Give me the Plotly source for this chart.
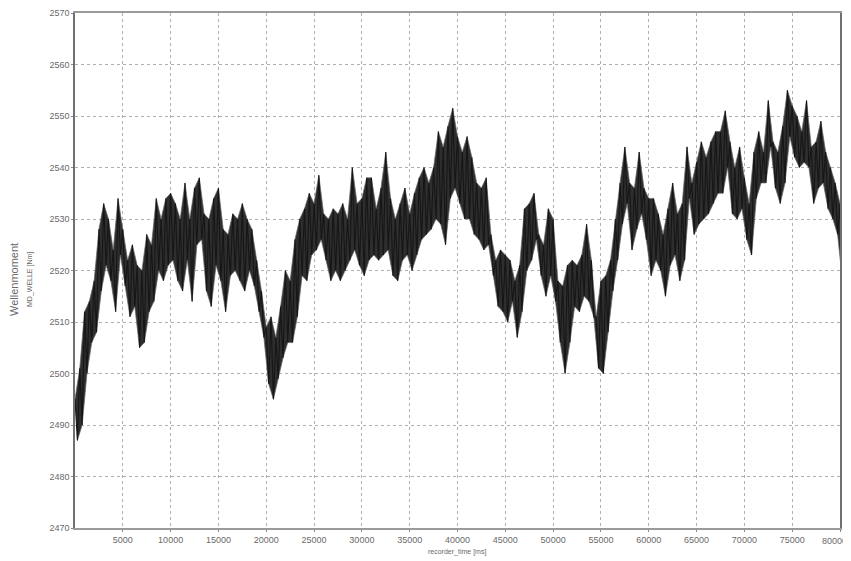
import plotly.graph_objects as go

# time step of envelope readings (ms)
step_ms = 500
# upper envelope of Wellenmoment, every 500 ms from 0 to 80000
upper = [2495, 2501, 2512, 2514, 2518, 2528, 2533, 2530, 2524, 2534,
         2528, 2522, 2525, 2521, 2520, 2527, 2525, 2534, 2530, 2534,
         2535, 2533, 2530, 2537, 2530, 2536, 2538, 2531, 2530, 2534,
         2536, 2528, 2527, 2531, 2530, 2533, 2530, 2528, 2522, 2516,
         2509, 2511, 2507, 2513, 2520, 2518, 2526, 2530, 2532, 2535,
         2533, 2538.5, 2531, 2530, 2532, 2531, 2533, 2530, 2540, 2533,
         2534, 2538, 2538, 2532, 2536, 2543, 2534, 2530, 2533, 2536,
         2531, 2535, 2538, 2540, 2537, 2540, 2547, 2544, 2548, 2551.5,
         2546, 2543, 2546, 2542, 2537, 2536, 2538, 2527, 2522, 2524,
         2523, 2522, 2518, 2521, 2532, 2533, 2535, 2527, 2525, 2532,
         2530, 2518, 2517, 2521, 2522, 2521, 2523, 2529, 2522, 2511,
         2518, 2519, 2522, 2530, 2537, 2544, 2537, 2536, 2543, 2536,
         2534, 2534, 2531, 2527, 2532, 2537, 2531, 2533, 2544, 2537,
         2541, 2545, 2542, 2545, 2547, 2547, 2551, 2545, 2540, 2544,
         2538, 2533, 2543, 2547, 2543, 2553, 2545, 2543, 2548, 2555,
         2552, 2550, 2547, 2553, 2544, 2545, 2549, 2543, 2540, 2537,
         2533]
# lower envelope, same time points
lower = [2487, 2490, 2500, 2506, 2508, 2516, 2521, 2518, 2512, 2523,
         2517, 2511, 2513, 2505, 2506, 2512, 2514, 2520, 2518, 2521,
         2522, 2518, 2516, 2522, 2514, 2525, 2526, 2516, 2513, 2521,
         2518, 2512, 2519, 2520, 2518, 2516, 2520, 2517, 2512, 2507,
         2498, 2495, 2499, 2503, 2506, 2506, 2511, 2519, 2518, 2523,
         2524, 2526, 2522, 2518, 2520, 2518, 2520, 2522, 2524, 2521,
         2519, 2522, 2523, 2522, 2523, 2524, 2519, 2518, 2522, 2523,
         2520, 2523, 2526, 2527, 2528, 2530, 2529, 2525, 2534, 2536,
         2533, 2530, 2530, 2527, 2526, 2524, 2525, 2519, 2513, 2512,
         2510, 2514, 2507, 2512, 2520, 2522, 2526, 2519, 2515, 2519,
         2514, 2506, 2500, 2506, 2513, 2512, 2515, 2514, 2511, 2501,
         2500, 2508, 2516, 2522, 2529, 2533, 2524, 2528, 2531, 2526,
         2519, 2522, 2520, 2515, 2521, 2523, 2518, 2522, 2534, 2527,
         2529, 2530, 2531, 2533, 2535, 2535, 2540, 2531, 2530, 2532,
         2526, 2523, 2534, 2537, 2537, 2544, 2536, 2533, 2537, 2546,
         2542, 2540, 2541, 2540, 2533, 2536, 2537, 2532, 2530, 2527,
         2518]

y_ticks = list(range(2470, 2571, 10))
x_ticks = list(range(5000, 80001, 5000))
x_ticktext = [str(v) for v in x_ticks]

# zig-zag trace alternating between envelope extremes
xs, ys = [], []
for i, (h, l) in enumerate(zip(upper, lower)):
    t = i * step_ms
    xs += [t, t + step_ms / 2]
    ys += [h, l]

# filled band through the same extreme points
band_x = xs[0::2] + xs[1::2][::-1]
band_y = ys[0::2] + ys[1::2][::-1]

fig = go.Figure()
fig.add_trace(go.Scatter(x=band_x, y=band_y, mode="lines", fill="toself",
                         fillcolor="#2e2e2e", line=dict(color="#666", width=0.7),
                         showlegend=False, hoverinfo="skip"))
fig.add_trace(go.Scatter(x=xs, y=ys, mode="lines",
                         line=dict(color="#161616", width=1.1),
                         showlegend=False, hoverinfo="skip"))

font = "Liberation Sans, Arial"
tickfont = dict(family=font, size=9, color="#6a6a6a")
axis_common = dict(showgrid=True, gridcolor="#b0b0b0", griddash="dot", gridwidth=1,
                   showline=True, mirror=True, ticks="outside", ticklen=2,
                   tickcolor="#888", automargin=False,
                   tickfont=tickfont, zeroline=False)

# page body has an 8px offset; plot area on screen: x 75..840, y 13..528
W, H = 843, 553
ml, mr, mt, mb = 67, 11, 5, 33

# last x tick label would run past the window edge: draw it right-aligned
shown_text = x_ticktext[:-1] + [""]

fig.update_layout(
    width=W, height=H,
    margin=dict(l=ml, r=mr, t=mt, b=mb, autoexpand=False),
    paper_bgcolor="white", plot_bgcolor="white",
    xaxis=dict(range=[0, 80000], tickvals=x_ticks, ticktext=shown_text,
               linecolor="#9a9a9a", linewidth=2, **axis_common),
    yaxis=dict(range=[2470, 2570], tickvals=y_ticks,
               ticktext=[str(v) for v in y_ticks],
               linecolor="#707070", linewidth=1.5, **axis_common),
)

# annotations placed by screen pixel position, converted to paper coords
left, right, top, bottom = 75, 840, 13, 528
def px(sx, sy):
    return (sx - left) / (right - left), (bottom - sy) / (bottom - top)

labels = [
    ("Wellenmoment", 14, 280, 11, -90, "center", "#6a6a6a"),
    ("MD_WELLE [Nm]", 30, 280, 7, -90, "center", "#6a6a6a"),
    ("recorder_time [ms]", 457, 552, 7, 0, "center", "#6a6a6a"),
    (x_ticktext[-1], 849, 541, 9, 0, "right", "#6a6a6a"),
]
for text, sx, sy, size, ang, anchor, col in labels:
    ax, ay = px(sx, sy)
    fig.add_annotation(text=text, x=ax, y=ay, xref="paper", yref="paper",
                       showarrow=False, textangle=ang,
                       xanchor=anchor, yanchor="middle",
                       font=dict(family=font, size=size, color=col))

fig.write_html("out.html")
